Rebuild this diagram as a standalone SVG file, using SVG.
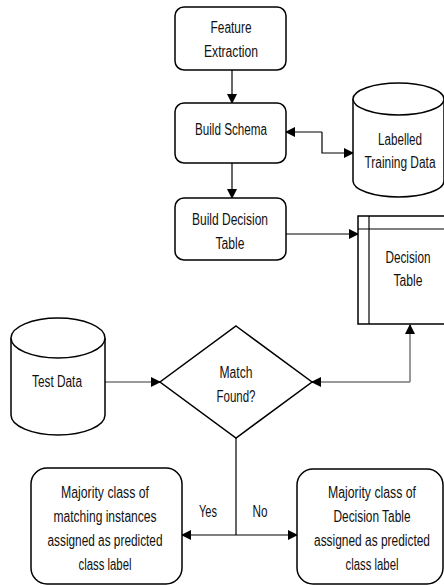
<svg xmlns="http://www.w3.org/2000/svg" width="444" height="585" viewBox="0 0 444 585">
<defs>
<style>
.n{fill:#fff;stroke:#000;stroke-width:1.5}
.t{font-family:"Liberation Sans",Arial,sans-serif;font-size:16px;fill:#111;text-anchor:middle}
.c{fill:none;stroke:#000;stroke-width:1.2}
.g{fill:none;stroke:#777;stroke-width:1.5}
</style>
<marker id="a" markerWidth="10" markerHeight="10" refX="9" refY="5" orient="auto" markerUnits="userSpaceOnUse">
<path d="M0,0 L10,5 L0,10 z" fill="#000"/>
</marker>
</defs>
<rect width="444" height="585" fill="#fff"/>
<g id="connectors">
<line class="c" x1="232" y1="70" x2="232" y2="103" marker-end="url(#a)"/>
<line class="c" x1="232" y1="163" x2="232" y2="198" marker-end="url(#a)"/>
<polyline class="c" points="322,132 286,132" marker-end="url(#a)"/>
<polyline class="c" points="322,132 322,153 353,153" marker-end="url(#a)"/>
<line class="c" x1="286" y1="234" x2="358" y2="234" marker-end="url(#a)"/>
<line class="g" x1="105" y1="382" x2="154" y2="382"/>
<line class="c" x1="152" y1="382" x2="160" y2="382" marker-end="url(#a)"/>
<polyline class="g" points="410,382 318,382"/>
<polyline class="c" points="319,382 312,382" marker-end="url(#a)"/>
<polyline class="g" points="410,382 410,332"/>
<polyline class="c" points="410,332 410,325" marker-end="url(#a)"/>
<line class="c" x1="236" y1="438" x2="236" y2="535"/>
<line class="c" x1="236" y1="535" x2="182" y2="535" marker-end="url(#a)"/>
<line class="c" x1="236" y1="535" x2="297" y2="535" marker-end="url(#a)"/>
<text class="t" x="208" y="517" textLength="18" lengthAdjust="spacingAndGlyphs">Yes</text>
<text class="t" x="260" y="517" textLength="15" lengthAdjust="spacingAndGlyphs">No</text>
</g>
<g id="feature-extraction">
<rect class="n" x="175" y="7" width="111" height="63" rx="9"/>
<text class="t" x="231" y="33" textLength="41" lengthAdjust="spacingAndGlyphs">Feature</text>
<text class="t" x="231" y="57" textLength="54" lengthAdjust="spacingAndGlyphs">Extraction</text>
</g>
<g id="build-schema">
<rect class="n" x="175" y="103" width="111" height="60" rx="9"/>
<text class="t" x="231" y="135" textLength="72" lengthAdjust="spacingAndGlyphs">Build Schema</text>
</g>
<g id="build-decision-table">
<rect class="n" x="175" y="198" width="111" height="62" rx="9"/>
<text class="t" x="230" y="225" textLength="76" lengthAdjust="spacingAndGlyphs">Build Decision</text>
<text class="t" x="230" y="249" textLength="29" lengthAdjust="spacingAndGlyphs">Table</text>
</g>
<g id="labelled-training-data">
<path class="n" d="M353,99 L353,181 A45.5,16 0 0 0 444,181 L444,99"/>
<ellipse class="n" cx="398.5" cy="99" rx="45.5" ry="16"/>
<text class="t" x="400" y="145" textLength="44" lengthAdjust="spacingAndGlyphs">Labelled</text>
<text class="t" x="400" y="168" textLength="71" lengthAdjust="spacingAndGlyphs">Training Data</text>
</g>
<g id="decision-table">
<rect class="n" x="358" y="216" width="90" height="108"/>
<line class="c" x1="369" y1="216" x2="369" y2="324"/>
<line class="c" x1="358" y1="229" x2="448" y2="229"/>
<text class="t" x="408" y="263" textLength="45" lengthAdjust="spacingAndGlyphs">Decision</text>
<text class="t" x="408" y="286" textLength="29" lengthAdjust="spacingAndGlyphs">Table</text>
</g>
<g id="test-data">
<path class="n" d="M11,338 L11,415 A47,20 0 0 0 105,415 L105,338"/>
<ellipse class="n" cx="58" cy="338" rx="47" ry="20"/>
<text class="t" x="57" y="387" textLength="50" lengthAdjust="spacingAndGlyphs">Test Data</text>
</g>
<g id="match-found">
<polygon class="n" points="236,326 312,382 236,438 160,382"/>
<text class="t" x="236" y="378" textLength="33" lengthAdjust="spacingAndGlyphs">Match</text>
<text class="t" x="236" y="402" textLength="39" lengthAdjust="spacingAndGlyphs">Found?</text>
</g>
<g id="majority-matching">
<rect class="n" x="31" y="468" width="151" height="116" rx="16"/>
<text class="t" x="105" y="498" textLength="88" lengthAdjust="spacingAndGlyphs">Majority class of</text>
<text class="t" x="105" y="522" textLength="103" lengthAdjust="spacingAndGlyphs">matching instances</text>
<text class="t" x="105" y="546" textLength="115" lengthAdjust="spacingAndGlyphs">assigned as predicted</text>
<text class="t" x="105" y="570" textLength="53" lengthAdjust="spacingAndGlyphs">class label</text>
</g>
<g id="majority-table">
<rect class="n" x="297" y="469" width="146" height="115" rx="16"/>
<text class="t" x="372" y="498" textLength="88" lengthAdjust="spacingAndGlyphs">Majority class of</text>
<text class="t" x="372" y="522" textLength="77" lengthAdjust="spacingAndGlyphs">Decision Table</text>
<text class="t" x="372" y="546" textLength="116" lengthAdjust="spacingAndGlyphs">assigned as predicted</text>
<text class="t" x="372" y="570" textLength="53" lengthAdjust="spacingAndGlyphs">class label</text>
</g>
</svg>
